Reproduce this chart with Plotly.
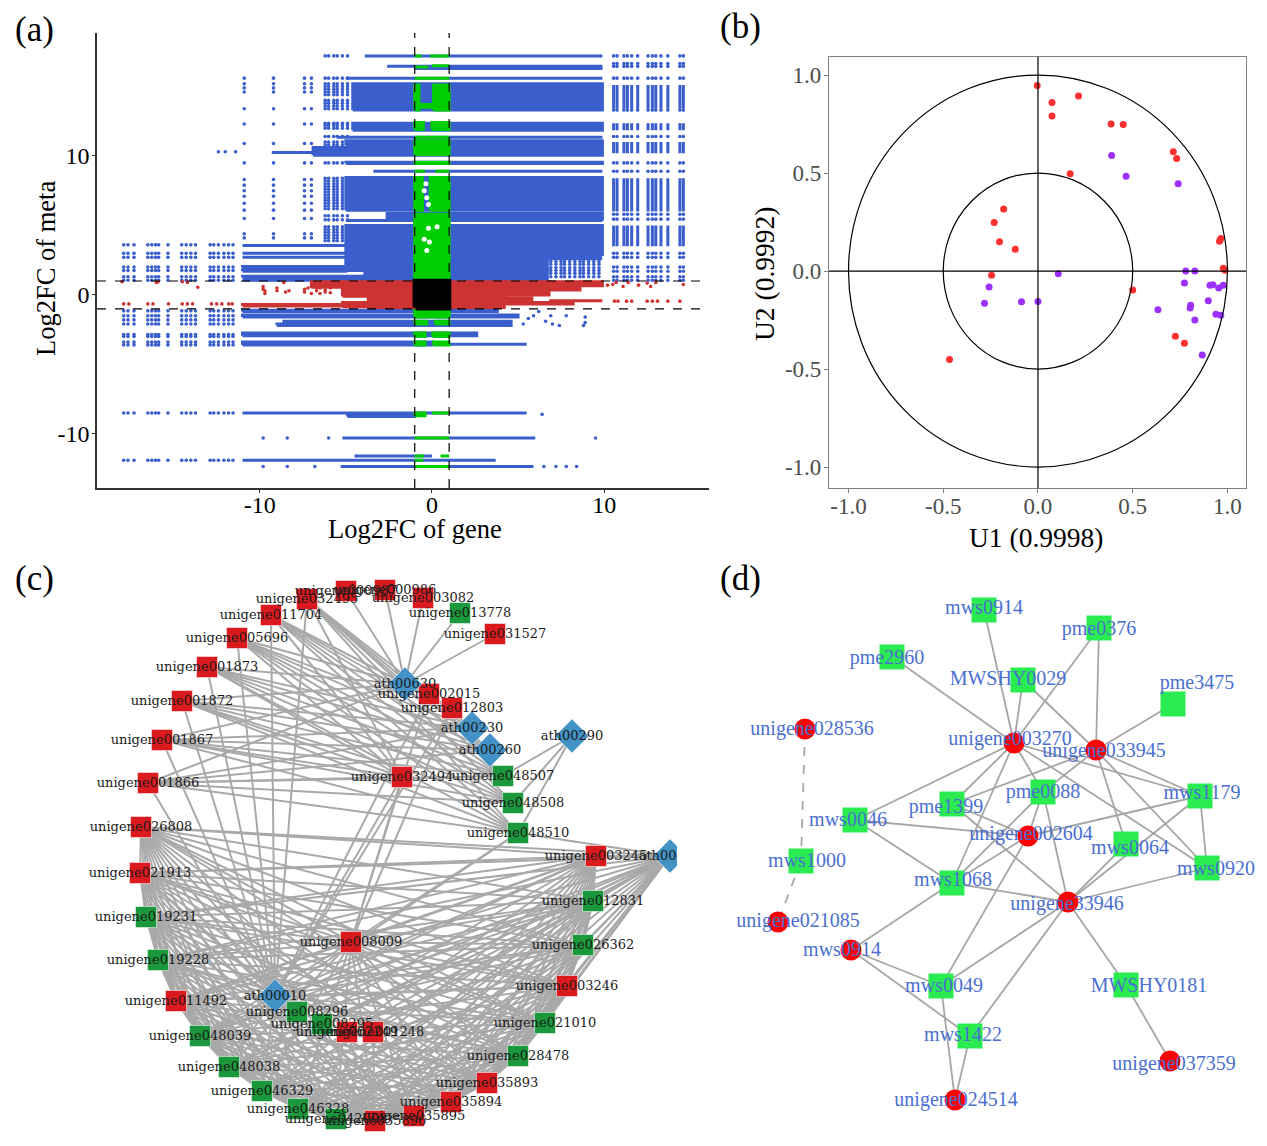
import itertools
import plotly.graph_objects as go

W, H = 1267, 1146
SERIF = "Liberation Serif"

# ---------- panel (a): bands are (x0, x1, y0, y1) extents of dense point rows
A_BLUE_BANDS = [
    (-3.9, 9.9, 17.2, 17.2), (-2.6, 9.9, 16.45, 16.45), (-1.0, 9.9, 16.3, 16.3),
    (-5, 9.9, 15.6, 15.6), (-4.6, 9.9, 14.35, 15.2), (-4.6, 9.9, 13.3, 14.25),
    (-4.6, 9.9, 11.85, 12.35), (-5.5, 9.9, 11.35, 11.4), (-5, 9.9, 10.75, 11.1),
    (-6.9, 9.9, 10.05, 10.6), (-9.3, -5, 10.25, 10.25), (-5, 9.9, 9.45, 9.55), (-3.4, 9.9, 8.9, 8.9),
    (-5, 9.9, 7.4, 8.45), (-5, 9.9, 6.1, 7.3), (-2.6, 9.9, 5.45, 5.85), (-5, 9.9, 5.35, 5.35),
    (-5, 9.9, 2.9, 5.0), (-5, 6.7, 1.75, 2.8), (-3.9, 6.7, 1.05, 1.75), (6.7, 9.8, 2.6, 2.85),
    (-11, -5, 3.55, 3.6), (-11, -5, 3.0, 3.05), (-11, -5, 2.7, 2.75),
    (-11, -5, 1.95, 2.05), (-11, -5, 1.7, 1.8), (-11, -3.9, 1.25, 1.35),
    (-11, -3.9, 1.05, 1.1), (-11, 3.8, -1.2, -1.1), (-11, 5.0, -1.6, -1.45),
    (-8.6, 4.6, -2.2, -1.9), (-9, -1, -2.2, -2.1), (-11, 2.6, -2.95, -2.75),
    (-11, 0, -3.6, -3.4), (0, 5.5, -3.55, -3.5), (-11, 5.5, -8.5, -8.5),
    (-4.9, -1, -8.75, -8.65), (-5.2, 6.0, -10.3, -10.3), (-4.5, 0, -11.6, -11.6),
    (-11, 3.7, -11.9, -11.9), (-5.3, 5.9, -12.35, -12.35),
]
A_RIGHT_COLS = [10.55, 10.75, 11.15, 11.35, 11.6, 11.95, 12.55, 12.8, 13.0, 13.3, 13.7, 14.4, 14.6]
A_RIGHT_BLOCKS = [(13.4, 15.1), (11.85, 12.35), (10.2, 11.0), (6.0, 8.4), (3.5, 5.0)]
A_RIGHT_ROWS = [17.2, 16.65, 16.45, 15.6, 13.3, 11.4, 9.5, 8.9, 5.8, 5.45, 3.0, 2.7, 2.0, 1.7, 1.3, 1.05]
A_MID_COLS = [-10.9, -9.2, -7.4, -7.0]
A_MID_ROWS = [15.6, 15.2, 14.9, 14.6, 13.4, 12.3, 10.9, 9.5, 8.3, 7.9, 7.5, 7.1, 6.6, 6.1, 5.5, 4.4, 4.1]
A_NEAR_COLS = [-6.2, -6.0, -5.7, -5.5, -5.2, -4.9]
A_NEAR_ROWS = [17.2, 15.6, 15.2, 15.0, 14.8, 14.6, 14.4, 14.0, 13.8, 13.6, 13.4, 12.35, 12.2, 12.0, 11.4, 11.0, 10.8,
               10.6, 10.4, 9.5, 8.4, 8.2, 8.0, 7.8, 7.6, 7.4, 7.2, 7.0, 6.8, 6.6, 6.4, 6.2, 5.7, 5.4, 4.9, 4.7, 4.5,
               4.3, 4.1, 3.9]
A_SPECK_COLS = [6.9, 7.2, 7.5, 7.7, 8.0, 8.3, 8.6, 8.8, 9.1, 9.4, 9.7]
A_SPECK_ROWS = [2.4, 2.2, 1.95, 1.75, 1.55, 1.3]
A_FAR_COLS = [-17.9, -17.65, -17.3, -16.5, -16.27, -16.05, -15.87, -15.33, -14.53, -14.27, -14.0,
              -13.73, -12.88, -12.67, -12.4, -12.08, -11.81, -11.55]
A_FAR_ROWS = [3.6, 3.0, 2.7, 2.0, 1.76, 1.3, 1.05, -1.15, -1.5, -1.8, -2.1, -2.85, -3.0, -3.4, -3.6, -8.5, -11.9]
A_EXTRA_BLUE_X = [-12.4, -12.0, -11.4, -9.8, -8.4, -6.0, 6.4, 8.8, 9.5, -9.8, -8.4, -6.8, 7.8, 7.2, 6.5, 8.4, 7.4, 7.0,
                  6.9, 6.6, 8.9, 5.6, 5.9, 6.2, 5.3, 8.9, 7.8]
A_EXTRA_BLUE_Y = [10.3, 10.3, 10.3, -10.3, -10.3, -10.3, -8.6, -2.2, -10.3, -12.35, -12.35, -12.35, -12.35, -12.35,
                  -12.35, -12.35, -2.2, -2.1, -1.5, -1.9, -2.0, -1.7, -1.5, -1.2, -2.1, -1.6, -1.5]
A_GREEN_BANDS = [
    (-1, -0.6, 17.2, 17.2), (-0.1, 1, 17.2, 17.2), (-1, -0.2, 16.4, 16.4), (0.0, 1, 16.5, 16.5),
    (-1, 1, 15.6, 15.6), (-1, -0.75, 13.3, 15.1), (0.1, 1, 13.3, 15.1), (-0.75, 0.1, 13.5, 13.7),
    (-1, -0.5, 11.9, 12.4), (0, 1, 11.9, 12.4), (-1, 1, 11.35, 11.4), (-1, 1, 10.1, 11.1),
    (-1, 1, 9.45, 9.55), (-1, -0.4, 8.9, 8.9), (0.2, 1, 8.9, 8.9), (-1, -0.55, 6.1, 8.45),
    (-0.1, 1, 6.1, 8.45), (-1, 1, 1.05, 5.8), (-1, 1, -1.6, -1.1), (-1, -0.3, -2.1, -1.9),
    (0.2, 1, -2.1, -1.9), (-1, -0.4, -3.0, -2.75), (0.05, 1, -3.0, -2.75), (-1, -0.4, -3.6, -3.4),
    (0.1, 1, -3.6, -3.4), (-1, -0.4, -8.7, -8.5), (0, 1, -8.5, -8.5), (-1, 1, -10.3, -10.3),
    (-1, -0.45, -11.6, -11.6), (0.5, 1, -11.6, -11.6), (-1, -0.5, -11.9, -11.9), (-1, 1, -12.35, -12.35),
]
A_RED_BANDS = [
    (-3.7, -1, -0.9, 0.95), (-5.2, -3.7, -0.1, 0.95), (-5.2, -3.7, -0.85, -0.55),
    (1, 4.2, -0.9, 0.95), (4.2, 6.8, 0.0, 0.95), (4.2, 5.8, -0.5, -0.2), (4.2, 8.2, -0.65, -0.55),
    (-11, -1, -0.8, -0.7), (6.8, 8.6, 0.35, 0.95), (8.6, 9.9, 0.65, 0.95), (-7, -5.2, 0.55, 0.95),
    (6.8, 9.9, -0.42, -0.38),
]
A_RED_DOT_X = [-9.8, -9.7, -9.0, -8.6, -8.3, -7.4, -7.0, -6.7, -6.5, -6.2, -5.9,
               -9.8, -9.7, -9.0, -8.5, -7.4, -7.2, -7.0, -6.7, -6.5, -6.2, -5.9, -5.6,
               -17.9, -17.6, -16.5, -16.2, -15.3, -14.5, -14.2, -13.9, -12.8, -12.5, -12.2, -11.8, -11.6,
               -18, -16.0, -15.9, -14.5, -14.2, -13.6,
               10.6, 10.8, 11.3, 11.6, 12.5, 12.8, 13.1, 13.7, 14.4,
               10.5, 10.7, 11.1, 11.4, 12.0, 12.5, 12.7, 13.0, 14.6, 10.2]
A_RED_DOT_Y = [0.6, 0.3, 0.5, 0.9, 0.3, 0.2, 0.6, 0.3, 0.5, 0.2, 0.5,
               0.4, 0.1, 0.3, 0.2, 0.4, 0.5, 0.1, 0.5, 0.1, 0.35, 0.15, 0.6,
               -0.65, -0.65, -0.65, -0.65, -0.65, -0.65, -0.65, -0.65, -0.65, -0.65, -0.65, -0.65, -0.65,
               0.95, 0.9, 0.95, 0.95, 0.9, 0.55,
               -0.45, -0.45, -0.45, -0.45, -0.45, -0.45, -0.45, -0.45, -0.45,
               0.75, 0.9, 0.6, 0.9, 0.7, 0.85, 0.6, 0.9, 0.75, 0.7]
A_BLACK_BANDS = [(-0.95, 0.95, -0.9, 0.95)]
A_GAP_X = [-0.45, -0.3, -0.2, -0.35, -0.2, -0.45, 0.3, -0.15, -0.3]
A_GAP_Y = [7.5, 7.0, 6.5, 8.0, 4.8, 4.0, 4.9, 3.8, 3.2]

# ---------- panel (b)
B_RED_X = [-0.004, 0.074, 0.074, 0.214, 0.386, 0.450, 0.714, 0.732, 0.170, -0.181, -0.231, -0.203, -0.120,
           -0.245, 0.500, -0.467, 0.725, 0.773, 0.958, 0.965, 0.978, 0.987]
B_RED_Y = [0.946, 0.860, 0.791, 0.893, 0.750, 0.748, 0.608, 0.574, 0.496, 0.317, 0.247, 0.150, 0.111,
           -0.021, -0.097, -0.451, -0.333, -0.369, 0.152, 0.166, 0.014, 0.004]
B_PURPLE_X = [0.389, 0.465, 0.740, 0.780, 0.828, 0.107, -0.258, -0.282, -0.087, 0.0, 0.773, 0.908, 0.923,
              0.954, 0.978, 0.899, 0.806, 0.803, 0.633, 0.939, 0.965, 0.828, 0.867]
B_PURPLE_Y = [0.590, 0.483, 0.445, 0.0, 0.0, -0.014, -0.081, -0.165, -0.157, -0.156, -0.061, -0.072, -0.070,
              -0.086, -0.072, -0.152, -0.174, -0.188, -0.197, -0.220, -0.225, -0.250, -0.428]
B_CIRCLE_RADII = [1.0, 0.5]

# ---------- panel (c): network layout positions
C_NODES = {
    "unigene000987": (346, 591, "r"), "unigene000986": (385, 590, "r"), "unigene032495": (307, 599, "r"),
    "unigene003082": (423, 598, "r"), "unigene013778": (460, 613, "g"), "unigene031527": (495, 634, "r"),
    "unigene011704": (271, 615, "r"), "unigene005696": (237, 638, "r"), "unigene001873": (207, 667, "r"),
    "unigene001872": (182, 701, "r"), "unigene001867": (162, 740, "r"), "unigene001866": (148, 783, "r"),
    "unigene026808": (141, 827, "r"), "unigene021913": (140, 873, "r"), "unigene019231": (146, 917, "g"),
    "unigene019228": (158, 960, "g"), "unigene011492": (176, 1001, "r"), "unigene048039": (200, 1036, "g"),
    "unigene048038": (229, 1067, "g"), "unigene046329": (262, 1091, "g"), "unigene046328": (298, 1109, "g"),
    "unigene042008": (336, 1119, "g"), "unigene035896": (375, 1121, "r"), "unigene035895": (414, 1116, "r"),
    "unigene035894": (451, 1102, "r"), "unigene035893": (487, 1083, "r"), "unigene028478": (518, 1056, "g"),
    "unigene021010": (545, 1023, "g"), "unigene003246": (567, 986, "r"), "unigene026362": (583, 945, "g"),
    "unigene012831": (593, 901, "g"), "unigene003245": (596, 856, "r"), "unigene048510": (518, 833, "g"),
    "unigene048508": (513, 803, "g"), "unigene048507": (503, 776, "g"), "unigene032494": (402, 777, "r"),
    "unigene012803": (452, 708, "r"), "unigene002015": (429, 694, "r"), "unigene008009": (351, 942, "r"),
    "unigene008296": (297, 1012, "g"), "unigene008295": (322, 1024, "g"), "unigene002249": (347, 1032, "r"),
    "unigene001248": (373, 1032, "r"),
    "ath00630": (405, 684, "b"), "ath00230": (472, 728, "b"), "ath00260": (490, 750, "b"),
    "ath00290": (572, 736, "b"), "ath00040": (670, 856, "b"), "ath00010": (275, 996, "b"),
}
C_TOP = ["unigene032495", "unigene011704", "unigene005696", "unigene001873", "unigene001872",
         "unigene001867", "unigene001866"]
C_TOP_PARTNERS = ["ath00630", "ath00230", "ath00260", "unigene048507", "unigene048508", "unigene048510",
                  "ath00010", "unigene032494"]
C_TOP_SINGLE = ["unigene000987", "unigene000986", "unigene003082", "unigene013778", "unigene031527"]
C_ARC = ["unigene026808", "unigene021913", "unigene019231", "unigene019228", "unigene011492", "unigene048039",
         "unigene048038", "unigene046329", "unigene046328", "unigene042008", "unigene035896", "unigene035895",
         "unigene035894", "unigene035893", "unigene028478", "unigene021010", "unigene003246", "unigene026362",
         "unigene012831", "unigene003245"]
C_ARC_HUBS = ["ath00010", "ath00040", "unigene008009"]
C_CENTRE = ["unigene032494", "unigene012803", "unigene002015", "unigene048510"]

# ---------- panel (d)
D_SQUARES = {"mws0914a": (984, 610), "pme0376": (1099, 628), "pme2960": (892, 657), "MWSHY0029": (1023, 680),
             "pme3475": (1173, 704), "pme1399": (952, 804), "pme0088": (1043, 792), "mws1179": (1200, 796),
             "mws0046": (855, 820), "mws0064": (1126, 844), "mws1000": (801, 861), "mws0920": (1207, 868),
             "mws1068": (952, 883), "mws0049": (941, 986), "MWSHY0181": (1126, 985), "mws1422": (970, 1036)}
D_CIRCLES = {"unigene028536": (805, 729), "unigene003270": (1014, 743), "unigene033945": (1096, 750),
             "unigene002604": (1028, 836), "unigene33946": (1068, 902), "unigene021085": (778, 922),
             "mws0914b": (851, 950), "unigene037359": (1170, 1061), "unigene024514": (955, 1100)}
D_LABELS = [("mws0914", 984, 609), ("pme0376", 1099, 630), ("pme2960", 887, 659), ("MWSHY0029", 1008, 680),
            ("pme3475", 1197, 684), ("unigene028536", 812, 730), ("unigene003270", 1010, 740),
            ("unigene033945", 1104, 752), ("pme1399", 946, 808), ("pme0088", 1043, 793), ("mws1179", 1202, 794),
            ("mws0046", 848, 821), ("unigene002604", 1031, 835), ("mws0064", 1130, 849), ("mws1000", 807, 862),
            ("mws0920", 1216, 870), ("mws1068", 953, 881), ("unigene33946", 1067, 905), ("unigene021085", 798, 922),
            ("mws0914", 842, 951), ("mws0049", 944, 987), ("MWSHY0181", 1149, 987), ("mws1422", 963, 1036),
            ("unigene037359", 1174, 1065), ("unigene024514", 956, 1101)]
D_EDGES = [("unigene003270", t) for t in ["pme2960", "mws0914a", "MWSHY0029", "pme0376", "mws0046", "pme1399",
                                          "mws1068", "pme0088", "mws1179", "mws0920"]] + \
          [("unigene033945", t) for t in ["MWSHY0029", "pme0376", "pme3475", "pme1399", "pme0088", "mws1179",
                                          "mws0920", "mws0064"]] + \
          [("unigene002604", t) for t in ["mws0046", "pme1399", "mws1179", "pme0088", "mws1068", "mws0049"]] + \
          [("unigene33946", t) for t in ["pme1399", "pme0088", "mws0064", "mws1179", "mws0920", "mws1068",
                                         "mws0049", "mws1422", "MWSHY0181"]] + \
          [("mws1179", "mws0920"), ("mws0046", "mws1068"), ("mws1068", "pme0088"), ("mws1068", "mws0914b"),
           ("mws0914b", "mws0049"), ("mws0914b", "mws1422"), ("mws0049", "unigene024514"),
           ("mws1422", "unigene024514"), ("MWSHY0181", "unigene037359")]
D_DASHED = [("unigene028536", "mws1000"), ("mws1000", "unigene021085")]

# axis-title positions on the page: (text, x, y, angle, size)
AXIS_TITLES = [("Log2FC of gene", 415, 529, 0, 26.5), ("Log2FC of meta", 46, 269, -90, 26.5),
               ("U1 (0.9998)", 1036, 537, 0, 27.5), ("U2 (0.9992)", 765, 274, -90, 27.5)]
PANEL_TAGS = [("(a)", 13, 30), ("(b)", 718, 27), ("(c)", 13, 579), ("(d)", 718, 579)]


def band_path(bands):
    xs, ys = [], []
    for x0, x1, y0, y1 in bands:
        xs += [x0, x1, x1, x0, x0, None]
        ys += [y0, y0, y1, y1, y0, None]
    return xs, ys


def cross(cols, rows):
    pairs = list(itertools.product(cols, rows))
    return [p[0] for p in pairs], [p[1] for p in pairs]


def band_trace(bands, color, width=3):
    xs, ys = band_path(bands)
    return go.Scatter(x=xs, y=ys, mode="lines", fill="toself", fillcolor=color,
                      line=dict(color=color, width=width), hoverinfo="skip", showlegend=False,
                      xaxis="x", yaxis="y")


def dot_trace(xs, ys, color, size=3.6, ax=("x", "y")):
    return go.Scatter(x=xs, y=ys, mode="markers", marker=dict(color=color, size=size), hoverinfo="skip",
                      showlegend=False, xaxis=ax[0], yaxis=ax[1])


BLUE, GREEN, RED = "#3A5FCD", "#00CD00", "#CD3333"
fig = go.Figure()

# panel a
right_strips = [(c, c, y0, y1) for c in A_RIGHT_COLS for y0, y1 in A_RIGHT_BLOCKS]
fig.add_trace(band_trace(A_BLUE_BANDS, BLUE))
fig.add_trace(band_trace(right_strips, BLUE))
fig.add_trace(dot_trace(*cross(A_RIGHT_COLS, A_RIGHT_ROWS), BLUE))
fig.add_trace(dot_trace(*cross(A_MID_COLS, A_MID_ROWS), BLUE))
fig.add_trace(dot_trace(*cross(A_NEAR_COLS, A_NEAR_ROWS), BLUE))
fig.add_trace(dot_trace(*cross(A_SPECK_COLS, A_SPECK_ROWS), BLUE))
fig.add_trace(dot_trace(*cross(A_FAR_COLS, A_FAR_ROWS), BLUE))
fig.add_trace(dot_trace(A_EXTRA_BLUE_X, A_EXTRA_BLUE_Y, BLUE))
fig.add_trace(band_trace(A_GREEN_BANDS, GREEN))
fig.add_trace(dot_trace(A_GAP_X, A_GAP_Y, "#FFFFFF", size=5))
fig.add_trace(band_trace(A_RED_BANDS, RED))
fig.add_trace(dot_trace(A_RED_DOT_X, A_RED_DOT_Y, RED))
fig.add_trace(band_trace(A_BLACK_BANDS, "#000000", width=6))

# panel b
fig.add_trace(dot_trace(B_PURPLE_X, B_PURPLE_Y, "#9B30FF", size=7, ax=("x2", "y2")))
fig.add_trace(dot_trace(B_RED_X, B_RED_Y, "#FF3030", size=7, ax=("x2", "y2")))


def edge_trace(pairs, pos, color, width, ax, dash="solid"):
    xs, ys = [], []
    for a, b in pairs:
        xs += [pos[a][0], pos[b][0], None]
        ys += [pos[a][1], pos[b][1], None]
    return go.Scatter(x=xs, y=ys, mode="lines", line=dict(color=color, width=width, dash=dash),
                      hoverinfo="skip", showlegend=False, xaxis=ax[0], yaxis=ax[1])


# panel c
c_pairs = list(itertools.product(C_TOP, C_TOP_PARTNERS))
c_pairs += [("ath00630", n) for n in C_TOP_SINGLE + ["unigene002015", "unigene012803"]]
c_pairs += [("ath00290", n) for n in ["unigene048507", "unigene048508", "unigene048510"]]
c_pairs += list(itertools.combinations(C_ARC, 2))
c_pairs += list(itertools.product(C_ARC_HUBS, C_ARC))
c_pairs += list(itertools.product(["ath00010", "unigene008009"], C_CENTRE))
c_pairs += [("unigene035896", n) for n in ["unigene008296", "unigene008295", "unigene002249", "unigene001248"]]
c_pairs += [("ath00040", n) for n in ["unigene048510", "unigene008296", "unigene008295", "unigene002249",
                                      "unigene001248"]]
ax_c = ("x3", "y3")
fig.add_trace(edge_trace(c_pairs, C_NODES, "#A9A9A9", 2, ax_c))
for kind, sym, size, col in [("r", "square", 21, "#DA1A1E"), ("g", "square", 21, "#1B983C"),
                             ("b", "diamond", 26, "#4292C6")]:
    names = [n for n, v in C_NODES.items() if v[2] == kind]
    fig.add_trace(go.Scatter(x=[C_NODES[n][0] for n in names], y=[C_NODES[n][1] for n in names], mode="markers",
                             marker=dict(symbol=sym, size=size, color=col, line=dict(color="rgba(255,255,255,0.5)", width=1)),
                             hoverinfo="skip", showlegend=False, xaxis="x3", yaxis="y3"))
names = list(C_NODES)
fig.add_trace(go.Scatter(x=[C_NODES[n][0] for n in names], y=[C_NODES[n][1] + 1 for n in names], mode="text",
                         text=names, textposition="middle center",
                         textfont=dict(family="DejaVu Serif", size=13, color="#1a1a1a"),
                         hoverinfo="skip", showlegend=False, xaxis="x3", yaxis="y3", cliponaxis=True))

# panel d
d_pos = {**D_SQUARES, **D_CIRCLES}
ax_d = ("x4", "y4")
fig.add_trace(edge_trace(D_EDGES, d_pos, "#A6A6A6", 1.8, ax_d))
fig.add_trace(edge_trace(D_DASHED, d_pos, "#A6A6A6", 1.8, ax_d, dash="dash"))
fig.add_trace(go.Scatter(x=[v[0] for v in D_SQUARES.values()], y=[v[1] for v in D_SQUARES.values()], mode="markers",
                         marker=dict(symbol="square", size=25, color="#2AEB50"), hoverinfo="skip",
                         showlegend=False, xaxis="x4", yaxis="y4"))
fig.add_trace(go.Scatter(x=[v[0] for v in D_CIRCLES.values()], y=[v[1] for v in D_CIRCLES.values()], mode="markers",
                         marker=dict(symbol="circle", size=21, color="#FF0000"), hoverinfo="skip",
                         showlegend=False, xaxis="x4", yaxis="y4"))
fig.add_trace(go.Scatter(x=[l[1] for l in D_LABELS], y=[l[2] for l in D_LABELS], text=[l[0] for l in D_LABELS],
                         mode="text", textposition="middle center",
                         textfont=dict(family=SERIF, size=20, color="#4A6FD0"), hoverinfo="skip",
                         showlegend=False, xaxis="x4", yaxis="y4"))


def dom_x(a, b):
    return [a / W, b / W]


def dom_y(top, bottom):
    return [1 - bottom / H, 1 - top / H]


hidden = dict(visible=False, fixedrange=True)
fig.update_layout(
    width=W, height=H, margin=dict(l=0, r=0, t=0, b=0), paper_bgcolor="white", plot_bgcolor="white",
    font=dict(family=SERIF, color="black"), showlegend=False,
    xaxis=dict(domain=dom_x(97, 709), range=[-19.45, 16.09], tickvals=[-10, 0, 10], ticktext=["-10", "0", "10"],
               showgrid=False, zeroline=False, showline=True, linecolor="#333333", linewidth=1.5, ticks="outside",
               ticklen=3, tickcolor="#333333", tickfont=dict(size=24, color="black"), ticklabelstandoff=-9, anchor="y"),
    yaxis=dict(domain=dom_y(33, 488), range=[-13.9, 18.85], tickvals=[-10, 0, 10], ticktext=["-10", "0", "10"],
               showgrid=False, zeroline=False, showline=True, linecolor="#333333", linewidth=1.5, ticks="outside",
               ticklen=3, tickcolor="#333333", tickfont=dict(size=24, color="black"), ticklabelstandoff=-2, anchor="x"),
    xaxis2=dict(domain=dom_x(829, 1246), range=[-1.103, 1.098], tickvals=[-1, -0.5, 0, 0.5, 1],
                ticktext=["-1.0", "-0.5", "0.0", "0.5", "1.0"], showgrid=False, zeroline=False, showline=True,
                mirror=True, linecolor="#7F7F7F", linewidth=1.2, ticks="outside", ticklen=4, tickcolor="#7F7F7F",
                tickfont=dict(size=23, color="#4D4D4D"), ticklabelstandoff=-7, anchor="y2"),
    yaxis2=dict(domain=dom_y(57, 488), range=[-1.107, 1.092], tickvals=[-1, -0.5, 0, 0.5, 1],
                ticktext=["-1.0", "-0.5", "0.0", "0.5", "1.0"], showgrid=False, zeroline=False, showline=True,
                mirror=True, linecolor="#7F7F7F", linewidth=1.2, ticks="outside", ticklen=4, tickcolor="#7F7F7F",
                tickfont=dict(size=23, color="#4D4D4D"), ticklabelstandoff=-2, anchor="x2"),
    xaxis3=dict(domain=dom_x(0, 677), range=[0, 677], anchor="y3", **hidden),
    yaxis3=dict(domain=dom_y(560, 1146), range=[1146, 560], anchor="x3", **hidden),
    xaxis4=dict(domain=dom_x(700, 1267), range=[700, 1267], anchor="y4", **hidden),
    yaxis4=dict(domain=dom_y(560, 1146), range=[1146, 560], anchor="x4", **hidden),
)

dash_line = dict(color="black", width=1.2, dash="dash")
shapes = []
for v in [-1, 1]:
    shapes.append(dict(type="line", xref="x", yref="y domain", x0=v, x1=v, y0=0, y1=1, line=dash_line))
    shapes.append(dict(type="line", xref="x domain", yref="y", x0=0, x1=1, y0=v, y1=v, line=dash_line))
solid = dict(color="black", width=1.2)
for r in B_CIRCLE_RADII:
    shapes.append(dict(type="circle", xref="x2", yref="y2", x0=-r, x1=r, y0=-r, y1=r, line=solid))
shapes.append(dict(type="line", xref="x2", yref="y2 domain", x0=0, x1=0, y0=0, y1=1, line=solid))
shapes.append(dict(type="line", xref="x2 domain", yref="y2", x0=0, x1=1, y0=0, y1=0, line=solid))
fig.update_layout(shapes=shapes)

for txt, px, py in PANEL_TAGS:
    fig.add_annotation(text=txt, xref="paper", yref="paper", x=px / W, y=1 - py / H, xanchor="left",
                       yanchor="middle", showarrow=False, font=dict(family=SERIF, size=35, color="black"))
for txt, px, py, ang, size in AXIS_TITLES:
    fig.add_annotation(text=txt, xref="paper", yref="paper", x=px / W, y=1 - py / H, xanchor="center",
                       yanchor="middle", textangle=ang, showarrow=False,
                       font=dict(family=SERIF, size=size, color="black"))

fig.write_html("out.html", config=dict(displayModeBar=False),
               post_script="document.body.style.margin='0';document.body.style.overflow='hidden';")
